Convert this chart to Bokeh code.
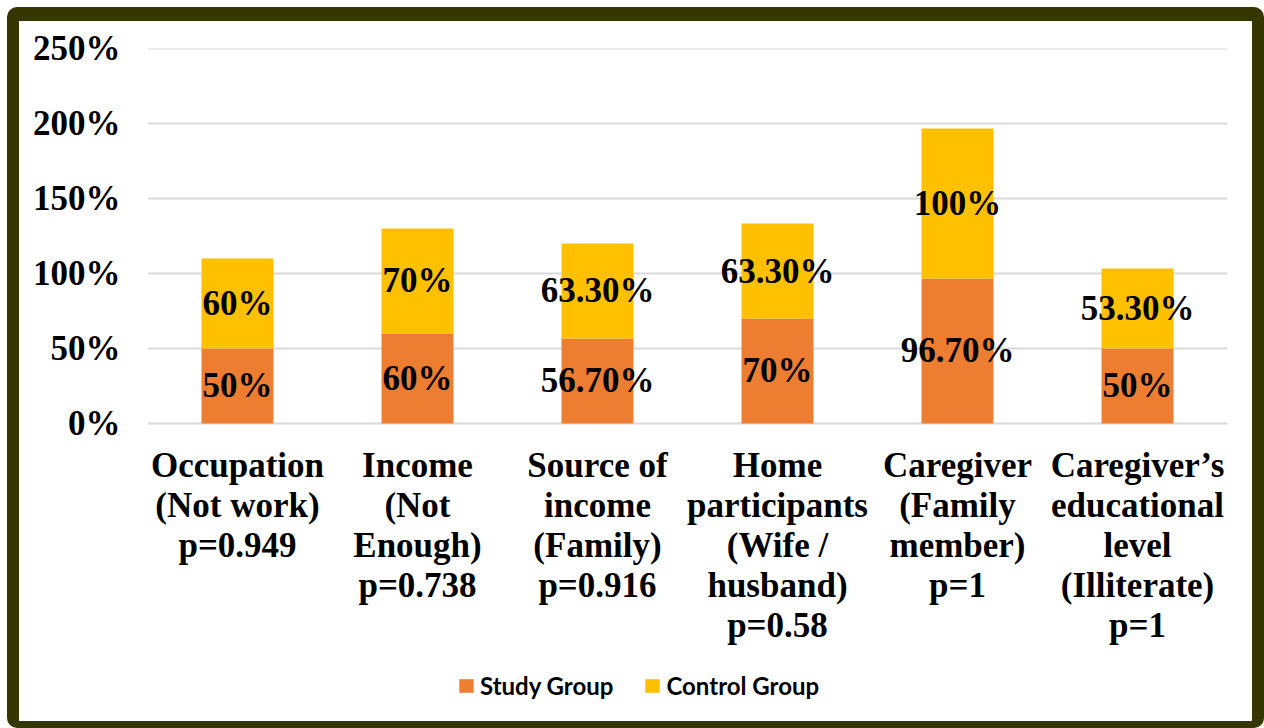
from bokeh.plotting import figure
from bokeh.models import Range1d, Legend, LegendItem, ColumnDataSource, NumeralTickFormatter, FixedTicker, Span
from bokeh.core.properties import value
from bokeh.embed import file_html
from bokeh.resources import INLINE

categories = [
    "Occupation\n(Not work)\np=0.949",
    "Income\n(Not\nEnough)\np=0.738",
    "Source of\nincome\n(Family)\np=0.916",
    "Home\nparticipants\n(Wife /\nhusband)\np=0.58",
    "Caregiver\n(Family\nmember)\np=1",
    "Caregiver\u2019s\neducational\nlevel\n(Illiterate)\np=1",
]
study = [50, 60, 56.7, 70, 96.7, 50]
control = [60, 70, 63.3, 63.3, 100, 53.3]
study_labels = ["50%", "60%", "56.70%", "70%", "96.70%", "50%"]
control_labels = ["60%", "70%", "63.30%", "63.30%", "100%", "53.30%"]
y_ticks = [0, 50, 100, 150, 200, 250]

STUDY_COLOR = "#ED7D31"
CONTROL_COLOR = "#FFC000"
SERIF = "Liberation Serif"
Y_MIN = -192.67   # extra room below 0% for the category labels
LABEL_Y = -14.8   # top of the category labels

src = ColumnDataSource(dict(
    cat=categories,
    study=study,
    control=control,
    study_mid=[s / 2 for s in study],
    control_mid=[s + c / 2 for s, c in zip(study, control)],
    study_lab=study_labels,
    control_lab=control_labels,
    lab_y=[LABEL_Y] * len(categories),
))

p = figure(
    x_range=categories, y_range=Range1d(Y_MIN, 250),
    width=1257, height=721,
    output_backend="svg", toolbar_location=None,
    min_border_left=128, min_border_right=49, min_border_top=27, min_border_bottom=30,
    background_fill_color="white", border_fill_color="white",
)
p.outline_line_color = None
p.xgrid.grid_line_color = None
p.ygrid.grid_line_color = None

for t in y_ticks:
    p.add_layout(Span(location=t, dimension="width", line_color="#D9D9D9", line_width=2, level="underlay"))

rs = p.vbar_stack(["study", "control"], x="cat", width=0.4, source=src,
                  color=[STUDY_COLOR, CONTROL_COLOR], line_color=None)

p.text(x="cat", y="study_mid", text="study_lab", source=src,
       text_font=value(SERIF), text_font_style="bold", text_font_size="35px",
       text_align="center", text_baseline="middle", text_color="black")
p.text(x="cat", y="control_mid", text="control_lab", source=src,
       text_font=value(SERIF), text_font_style="bold", text_font_size="35px",
       text_align="center", text_baseline="middle", text_color="black")
p.text(x="cat", y="lab_y", text="cat", source=src,
       text_font=value(SERIF), text_font_style="bold", text_font_size="35px",
       text_line_height=1.03,
       text_align="center", text_baseline="top", text_color="black")

p.xaxis.visible = False
p.yaxis.ticker = FixedTicker(ticks=y_ticks)
p.yaxis.formatter = NumeralTickFormatter(format="0")
p.yaxis.major_label_overrides = {t: f"{t}%" for t in y_ticks}
p.yaxis.axis_line_color = None
p.yaxis.major_tick_line_color = None
p.yaxis.minor_tick_line_color = None
p.yaxis.major_tick_out = 0
p.yaxis.major_tick_in = 0
p.yaxis.major_label_text_font = SERIF
p.yaxis.major_label_text_font_style = "bold"
p.yaxis.major_label_text_color = "black"
p.yaxis.major_label_text_font_size = "35px"
p.yaxis.major_label_standoff = 27

legend = Legend(items=[LegendItem(label="Study Group", renderers=[rs[0]]),
                       LegendItem(label="Control Group", renderers=[rs[1]])],
                orientation="horizontal", location=(310, 12),
                glyph_width=18, glyph_height=17, label_standoff=5, spacing=30,
                padding=5, margin=0,
                label_text_font="Lato", label_text_font_style="bold",
                label_text_font_size="24px", label_text_color="black",
                border_line_color=None, background_fill_alpha=0)
p.add_layout(legend, "center")

p.styles = {
    "margin": "7px 0 0 7px",
    "border-style": "solid",
    "border-color": "#363600",
    "border-width": "14px 12px 7px 12px",
    "border-radius": "10px",
}

open("out.html", "w").write(file_html(p, INLINE))
